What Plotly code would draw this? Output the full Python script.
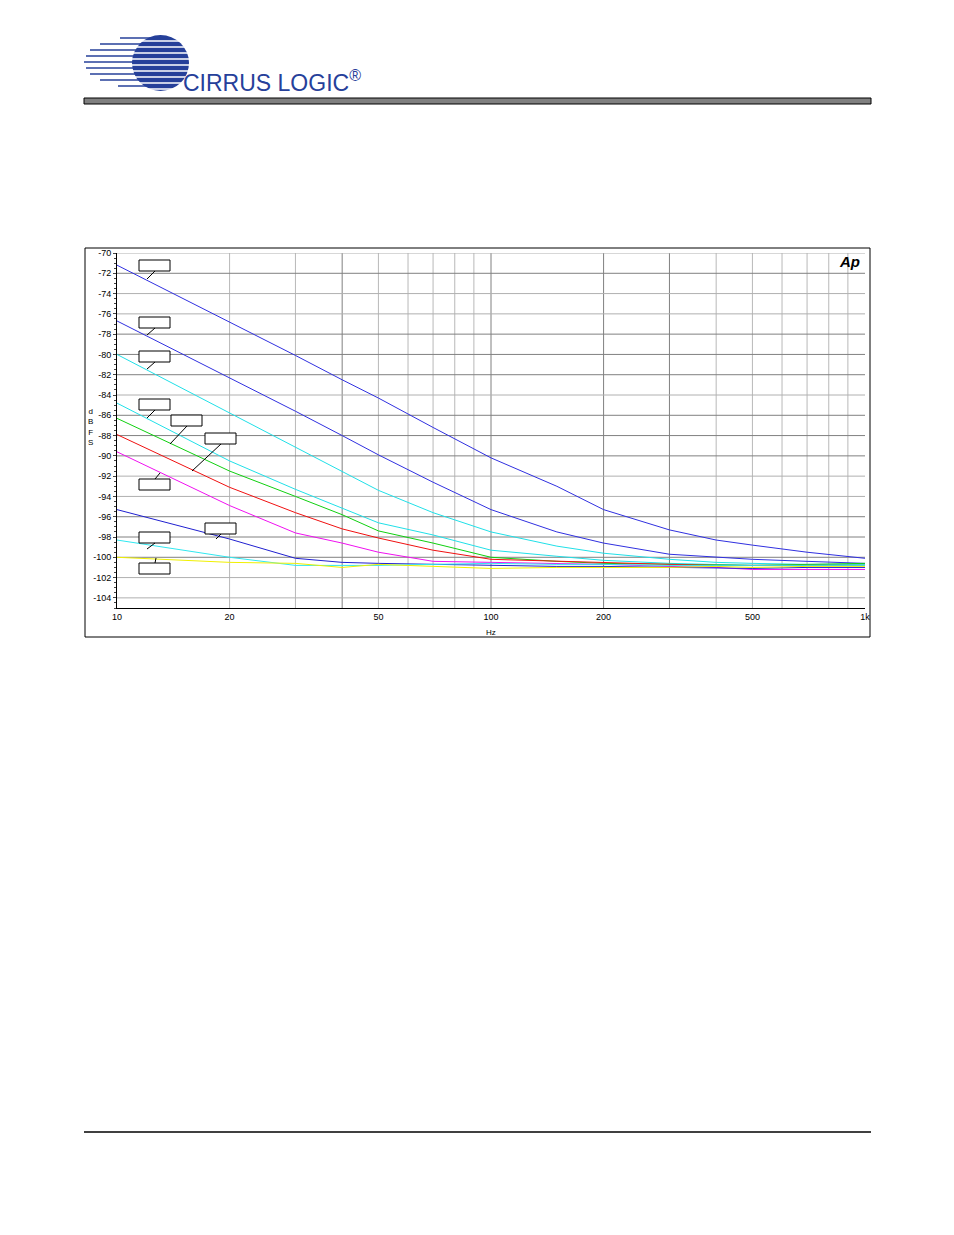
import plotly.graph_objects as go

freq_hz = [10, 20, 30, 40, 50, 70, 100, 150, 200, 300, 400, 500, 700, 1000]
curve_a = [-71.2, -76.8, -80.1, -82.5, -84.3, -87.2, -90.2, -93.0, -95.3, -97.3, -98.3, -98.8, -99.5, -100.1]
curve_b = [-76.7, -82.3, -85.6, -88.0, -89.9, -92.6, -95.3, -97.5, -98.6, -99.7, -100.0, -100.2, -100.4, -100.6]
curve_c = [-80.0, -85.8, -89.2, -91.6, -93.4, -95.6, -97.5, -98.9, -99.6, -100.2, -100.5, -100.6, -100.7, -100.7]
curve_d = [-84.8, -90.5, -93.3, -95.2, -96.6, -97.8, -99.3, -99.9, -100.3, -100.6, -100.7, -100.8, -100.8, -100.8]
curve_e = [-86.3, -91.5, -94.0, -95.8, -97.4, -98.6, -100.0, -100.4, -100.6, -100.7, -100.8, -100.8, -100.7, -100.6]
curve_f = [-87.9, -93.1, -95.6, -97.2, -98.1, -99.3, -100.2, -100.4, -100.5, -100.7, -100.8, -100.8, -100.8, -100.8]
curve_g = [-89.6, -94.9, -97.6, -98.6, -99.5, -100.4, -100.5, -100.6, -100.7, -100.9, -101.0, -101.2, -101.2, -101.2]
curve_h = [-95.3, -98.2, -100.1, -100.5, -100.6, -100.7, -100.8, -100.9, -100.9, -101.0, -101.0, -101.1, -101.0, -101.0]
curve_i = [-98.3, -100.0, -100.8, -100.8, -100.8, -100.7, -100.6, -100.7, -100.7, -100.8, -100.8, -100.8, -100.8, -100.8]
curve_j = [-100.0, -100.5, -100.6, -101.0, -100.7, -100.9, -101.1, -101.0, -101.0, -101.0, -100.9, -101.0, -100.9, -100.9]

series = [
    (curve_a, "#3030e0"), (curve_b, "#3030e0"), (curve_c, "#20e0e8"), (curve_d, "#20e0e8"),
    (curve_e, "#10d010"), (curve_f, "#f01010"), (curve_g, "#f010f0"), (curve_h, "#2020d0"),
    (curve_i, "#30e8f0"), (curve_j, "#f0f000"),
]

x_tick_vals = [10, 20, 50, 100, 200, 500, 1000]
x_tick_text = ["10", "20", "50", "100", "200", "500", "1k"]
y_tick_vals = list(range(-70, -105, -2))
y_tick_text = [str(v) for v in y_tick_vals]

OFF = 8
L, R, T, B = 117 - OFF, 865 - OFF, 253 - OFF, 608 - OFF
W, H = 954, 1235
def px(x): return (x - OFF - L) / (R - L)
def py(y): return (B - (y - OFF)) / (B - T)

fig = go.Figure()
for ys, c in series:
    fig.add_trace(go.Scatter(x=freq_hz, y=ys, mode="lines", line=dict(color=c, width=1), showlegend=False))

shapes = []
for f in [20, 30, 50, 60, 70, 80, 90, 400, 500, 600, 700, 800, 900]:
    shapes.append(dict(type="line", xref="x", yref="paper", x0=f, x1=f, y0=0, y1=1, line=dict(color="#b8b8b8", width=1), layer="below"))
for f in [40, 100, 200, 300]:
    shapes.append(dict(type="line", xref="x", yref="paper", x0=f, x1=f, y0=0, y1=1, line=dict(color="#808080", width=1), layer="below"))
for v in y_tick_vals:
    col = "#808080" if v in (-72, -78, -80, -82, -86, -88, -90, -96, -98, -100) else "#b0b0b0"
    shapes.append(dict(type="line", xref="paper", yref="y", x0=0, x1=1, y0=v, y1=v, line=dict(color=col, width=1), layer="below"))

shapes.append(dict(type="rect", xref="paper", yref="paper", x0=px(85), x1=px(870), y0=py(637), y1=py(248), line=dict(color="black", width=1)))
shapes.append(dict(type="rect", xref="paper", yref="paper", x0=px(84), x1=px(871), y0=py(104), y1=py(98), line=dict(color="black", width=1), fillcolor="#808080"))
shapes.append(dict(type="line", xref="paper", yref="paper", x0=px(84), x1=px(871), y0=py(1132), y1=py(1132), line=dict(color="black", width=1.5)))
shapes.append(dict(type="circle", xref="paper", yref="paper", x0=px(132), x1=px(189), y0=py(91), y1=py(35), line=dict(width=0), fillcolor="#26409a"))
for yy, x0 in [(38, 120), (44, 100), (50, 90), (56, 86), (62, 84), (68, 86), (74, 90), (80, 100), (86, 118)]:
    shapes.append(dict(type="line", xref="paper", yref="paper", x0=px(x0), x1=px(160), y0=py(yy), y1=py(yy), line=dict(color="#26409a", width=1.5)))
for yy in [41, 47, 53, 59, 65, 71, 77, 83, 89]:
    shapes.append(dict(type="line", xref="paper", yref="paper", x0=px(125), x1=px(192), y0=py(yy), y1=py(yy), line=dict(color="white", width=1.5)))

boxes = [((139, 260), (147, 279)), ((139, 317), (147, 335)), ((139, 351), (147, 369)), ((139, 399), (147, 418)),
         ((171, 415), (170, 444)), ((205, 433), (192, 471)), ((139, 479), (160, 473)), ((205, 523), (216, 539)),
         ((139, 532), (147, 549)), ((139, 563), (156, 558))]
for (bx, by), (lx, ly) in boxes:
    shapes.append(dict(type="rect", xref="paper", yref="paper", x0=px(bx), x1=px(bx + 31), y0=py(by + 11), y1=py(by),
                       line=dict(color="black", width=1), fillcolor="white"))
    ay = by + 11 if ly > by else by
    shapes.append(dict(type="line", xref="paper", yref="paper", x0=px(bx + 16), y0=py(ay), x1=px(lx), y1=py(ly), line=dict(color="black", width=1)))

ann = [
    dict(x=px(181), y=py(81), text="CIRRUS LOGIC<sup>®</sup>", font=dict(family="Liberation Sans Narrow, Arial", size=23, color="#26409a"), xanchor="left"),
    dict(x=px(862), y=py(261), text="<b><i>Ap</i></b>", font=dict(family="Arial", size=15, color="black"), xanchor="right"),
    dict(x=px(491), y=py(632), text="Hz", font=dict(family="Arial", size=8, color="black")),
    dict(x=px(90), y=py(427), text="d<br>B<br>F<br>S", font=dict(family="Arial", size=8, color="black")),
]
for a in ann:
    a.update(xref="paper", yref="paper", showarrow=False, yanchor="middle")
    a.setdefault("xanchor", "center")

fig.update_layout(
    width=W, height=H, margin=dict(l=L, r=W - R, t=T, b=H - B),
    paper_bgcolor="white", plot_bgcolor="white", shapes=shapes, annotations=ann,
    xaxis=dict(type="log", range=[1, 3], tickvals=x_tick_vals, ticktext=x_tick_text, showgrid=False,
               showline=True, linecolor="black", ticks="", tickfont=dict(family="Arial", size=9, color="black"), zeroline=False),
    yaxis=dict(range=[-105, -70], tickvals=y_tick_vals, ticktext=y_tick_text, showgrid=False, showline=True, linecolor="black",
               ticks="outside", ticklen=3, tickfont=dict(family="Arial", size=9, color="black"), zeroline=False,
               minor=dict(ticks="outside", ticklen=2, dtick=0.5)),
)
fig.write_html("out.html")
